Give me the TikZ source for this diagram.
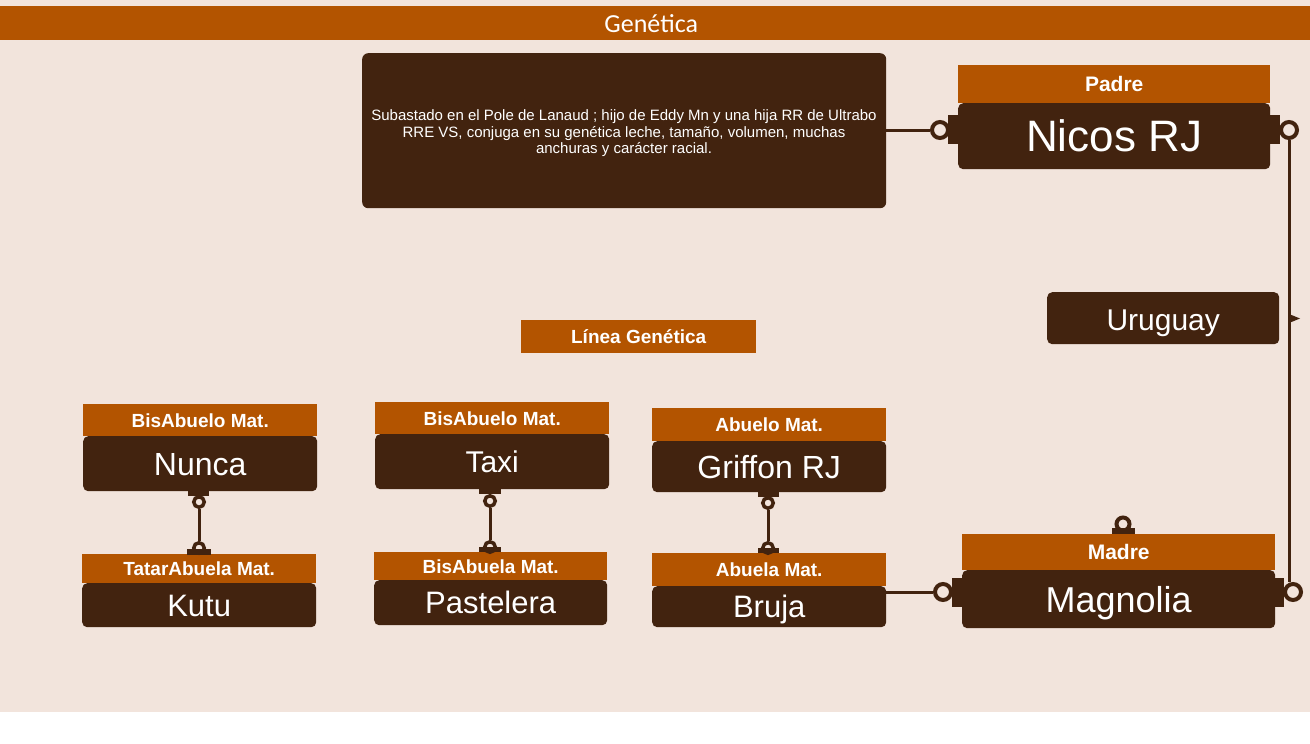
\documentclass[tikz,border=0pt]{standalone}
\usepackage{fontspec}
\setmainfont{Liberation Sans}
\newfontfamily\calfont{Carlito}
\definecolor{bgc}{HTML}{F2E4DC}
\definecolor{orng}{HTML}{B35400}
\definecolor{drk}{HTML}{42230F}
\tikzset{
  hdr/.style={fill=orng, text=white, inner sep=0pt, anchor=north west,
    font=\bfseries\fontsize{19}{22}\selectfont, text height=13.6pt, text depth=0pt},
  hdrbig/.style={hdr, font=\bfseries\fontsize{21}{24}\selectfont, text height=15pt},
  bodybox/.style={fill=drk, text=white, rounded corners=5pt, inner sep=0pt, anchor=north west,
    font=\fontsize{31}{34}\selectfont, text height=22.2pt, text depth=0pt},
  conn/.style={draw=drk, line width=3pt},
  ringc/.style={circle, draw=drk, fill=bgc, line width=3.5pt, minimum size=10.5pt, inner sep=0pt},
  ringbig/.style={ringc, line width=4pt, minimum size=16pt},
  tabbox/.style={fill=drk, inner sep=0pt, draw=none}
}
\begin{document}
\begin{tikzpicture}[x=1pt,y=-1pt]
\useasboundingbox (0,0) rectangle (1310,744);
\fill[white] (0,0) rectangle (1310,744);
\fill[bgc] (0,0) rectangle (1310,712);
% title
\node[fill=orng, text=white, minimum width=1310pt, minimum height=34pt, inner sep=0pt,
  anchor=north west, font=\calfont\fontsize{26}{28}\selectfont] (title) at (0,6) {Genética\kern8pt};
% description
\node[fill=drk, rounded corners=6pt, minimum width=524pt, minimum height=155pt,
  inner sep=0pt, anchor=north west] (desc) at (362,53) {};
\node[text=white, inner sep=0pt, align=center, font=\fontsize{15}{16.5}\selectfont] (descT) at (624,133.5)
  {Subastado en el Pole de Lanaud ; hijo de Eddy Mn y una hija RR de Ultrabo\\
   RRE VS, conjuga en su genética leche, tamaño, volumen, muchas\\
   anchuras y carácter racial.};
% Padre
\node[bodybox, minimum width=312pt, minimum height=66pt, font=\fontsize{44}{48}\selectfont, text height=31.5pt] (padreB) at (958,103) {Nicos RJ};
\node[hdrbig, minimum width=312pt, minimum height=38pt] (padreH) at (958,65) {Padre};
% Uruguay
\node[bodybox, minimum width=232pt, minimum height=52pt, font=\fontsize{30}{33}\selectfont, text height=25.5pt] (uru) at (1047,292) {Uruguay};
% Madre
\node[bodybox, minimum width=313pt, minimum height=58pt, font=\fontsize{36}{40}\selectfont, text height=25.8pt] (madreB) at (962,570) {Magnolia};
\node[hdrbig, minimum width=313pt, minimum height=36pt] (madreH) at (962,534) {Madre};
% Linea Genetica
\node[hdr, minimum width=235pt, minimum height=33pt] (linea) at (521,320) {Línea Genética};
% Nunca / Kutu
\node[bodybox, minimum width=234pt, minimum height=55pt, font=\fontsize{32}{35}\selectfont, text height=23pt] (nuncaB) at (83,436) {Nunca};
\node[hdr, minimum width=234pt, minimum height=32pt] (nuncaH) at (83,404) {BisAbuelo Mat.};
\node[bodybox, minimum width=234pt, minimum height=44pt] (kutuB) at (82,583) {Kutu};
\node[hdr, minimum width=234pt, minimum height=29pt] (kutuH) at (82,554) {TatarAbuela Mat.};
% Taxi / Pastelera
\node[bodybox, minimum width=234pt, minimum height=55pt, font=\fontsize{30}{33}\selectfont, text height=21.5pt] (taxiB) at (375,434) {Taxi};
\node[hdr, minimum width=234pt, minimum height=32pt] (taxiH) at (375,402) {BisAbuelo Mat.};
\node[bodybox, minimum width=233pt, minimum height=45pt] (pastB) at (374,580) {Pastelera};
\node[hdr, minimum width=233pt, minimum height=28pt] (pastH) at (374,552) {BisAbuela Mat.};
% Griffon / Bruja
\node[bodybox, minimum width=234pt, minimum height=51pt, font=\fontsize{32}{35}\selectfont, text height=23pt] (grifB) at (652,441) {Griffon RJ};
\node[hdr, minimum width=234pt, minimum height=33pt] (grifH) at (652,408) {Abuelo Mat.};
\node[bodybox, minimum width=234pt, minimum height=41pt] (brujaB) at (652,586) {Bruja};
\node[hdr, minimum width=234pt, minimum height=33pt] (brujaH) at (652,553) {Abuela Mat.};
% ---- connector ends ----
% Padre left / right
\node[tabbox, minimum width=10pt, minimum height=29pt, anchor=north west] (tP1) at (948,115) {};
\node[ringbig] (rP1) at (940,130) {};
\node[tabbox, minimum width=10pt, minimum height=29pt, anchor=north west] (tP2) at (1270,115) {};
\node[ringbig] (rP2) at (1289,130) {};
% Madre left / right / top
\node[tabbox, minimum width=10pt, minimum height=29pt, anchor=north west] (tM1) at (952,578) {};
\node[ringbig] (rM1) at (943,592) {};
\node[tabbox, minimum width=9pt, minimum height=29pt, anchor=north west] (tM2) at (1275,578) {};
\node[ringbig] (rM2) at (1293,592) {};
\node[ringc, minimum size=13pt, line width=4pt] (rM3) at (1123,524) {};
\node[tabbox, minimum width=23pt, minimum height=6pt, anchor=north west] (tM3) at (1112,528) {};
% Nunca - Kutu
\node[tabbox, minimum width=21pt, minimum height=6pt, anchor=north west] (tN1) at (188,490) {};
\node[ringc] (rN1) at (199,502) {};
\node[ringc] (rN2) at (199,548) {};
\node[tabbox, minimum width=24pt, minimum height=6pt, anchor=north west] (tN2) at (187,549) {};
% Taxi - Pastelera
\node[tabbox, minimum width=22pt, minimum height=6pt, anchor=north west] (tT1) at (479,488) {};
\node[ringc] (rT1) at (490,501) {};
\node[ringc] (rT2) at (490,547) {};
\node[tabbox, minimum width=22pt, minimum height=5pt, anchor=north west] (tT2) at (479,547) {};
% Griffon - Bruja
\node[tabbox, minimum width=21pt, minimum height=6pt, anchor=north west] (tG1) at (758,491) {};
\node[ringc] (rG1) at (768,503) {};
\node[ringc] (rG2) at (768,548) {};
\node[tabbox, minimum width=21pt, minimum height=5pt, anchor=north west] (tG2) at (758,548) {};
% ---- connectors ----
\draw[conn] (desc.east |- rP1) -- (rP1.west);
\draw[conn] (rP2.south) -- (rP2.south |- rM2.north);
\draw[conn] (brujaB.east |- rM1) -- (rM1.west);
\draw[conn] (rN1.south) -- (rN2.north);
\draw[conn] (rT1.south) -- (rT2.north);
\draw[conn] (rG1.south) -- (rG2.north);
% small arrow marker
\fill[drk] (1289,314) -- (1300,318.5) -- (1289,323) -- cycle;
\end{tikzpicture}
\end{document}
